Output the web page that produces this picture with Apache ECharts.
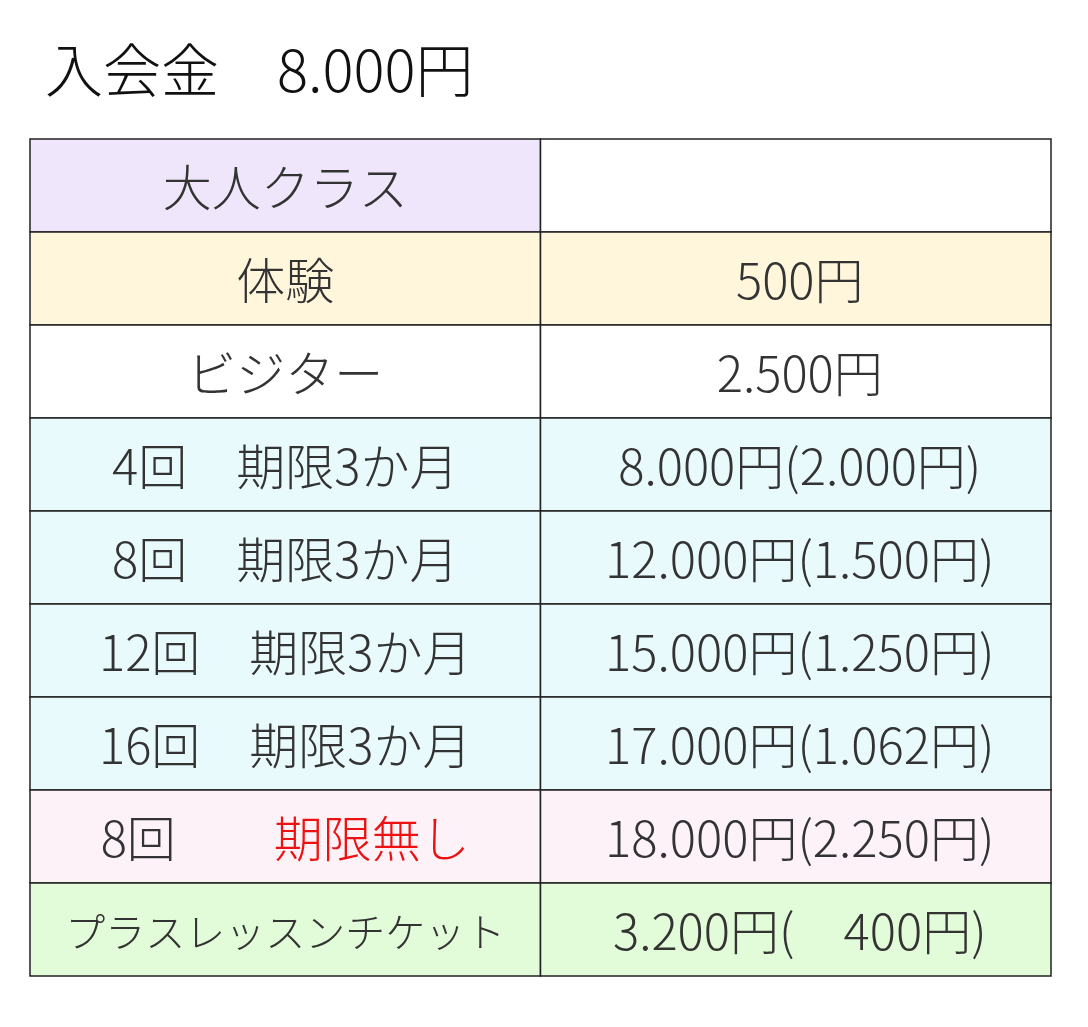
<!DOCTYPE html>
<html><head><meta charset="utf-8">
<script src="https://cdn.jsdelivr.net/npm/echarts@6/dist/echarts.min.js"></script>
<style>html,body{margin:0;background:#fff}#c{width:1088px;height:1027px}</style>
</head><body><div id="c"></div>
<script>
const title = '入会金　8.000円';
const rowLabels = ['大人クラス','体験','ビジター','4回　期限3か月','8回　期限3か月','12回　期限3か月','16回　期限3か月','8回　　{r|期限無し}','プラスレッスンチケット'];
const prices = ['','500円','2.500円','8.000円(2.000円)','12.000円(1.500円)','15.000円(1.250円)','17.000円(1.062円)','18.000円(2.250円)','3.200円(　400円)'];
const leftColors = ['#efe6fb','#fff6dc','#ffffff','#e9fafd','#e9fafd','#e9fafd','#e9fafd','#fdf2f7','#e2fcd9'];
const rightColors = ['#ffffff','#fff6dc','#ffffff','#e9fafd','#e9fafd','#e9fafd','#e9fafd','#fdf2f7','#e2fcd9'];
const cols = ['label','price'];
const rows = rowLabels.map((_, i) => 'r' + i);

const data = [];
rows.forEach((r, i) => { data.push([0, i]); data.push([1, i]); });
const FONT = '"Noto Sans CJK JP","Noto Sans",sans-serif';
const chart = echarts.init(document.getElementById('c'));
chart.setOption({
  animation: false,
  title: { text: title, left: 40, top: 36, textStyle: { fontFamily: FONT, fontSize: 58, fontWeight: 300, color: '#111' } },
  grid: { left: 30, right: 37, top: 139, bottom: 51 },
  xAxis: { type: 'category', data: cols, show: false },
  yAxis: { type: 'category', data: rows, inverse: true, show: false },
  series: [{
    type: 'custom',
    data: data,
    renderItem: function (params, api) {
      const c = api.value(0), r = api.value(1);
      const p = api.coord([c, r]);
      const s = api.size([1, 1]);
      const fill = c === 0 ? leftColors[r] : rightColors[r];
      const txt = c === 0 ? rowLabels[r] : prices[r];
      return {
        type: 'group',
        children: [
          { type: 'rect', shape: { x: p[0] - s[0] / 2, y: p[1] - s[1] / 2, width: s[0], height: s[1] },
            style: { fill: fill, stroke: '#222', lineWidth: 1.5 } },
          { type: 'text', x: p[0] + (c === 1 ? 4 : 0), y: p[1] + 2,
            style: { text: txt, align: 'center', verticalAlign: 'middle',
              fontFamily: FONT, fontWeight: 300, fontSize: (c === 0 && r === 8) ? 40 : 49, fill: '#333',
              rich: { r: { fill: '#ee1111', fontFamily: FONT, fontWeight: 300, fontSize: 49 } } } }
        ]
      };
    }
  }]
});
</script></body></html>
